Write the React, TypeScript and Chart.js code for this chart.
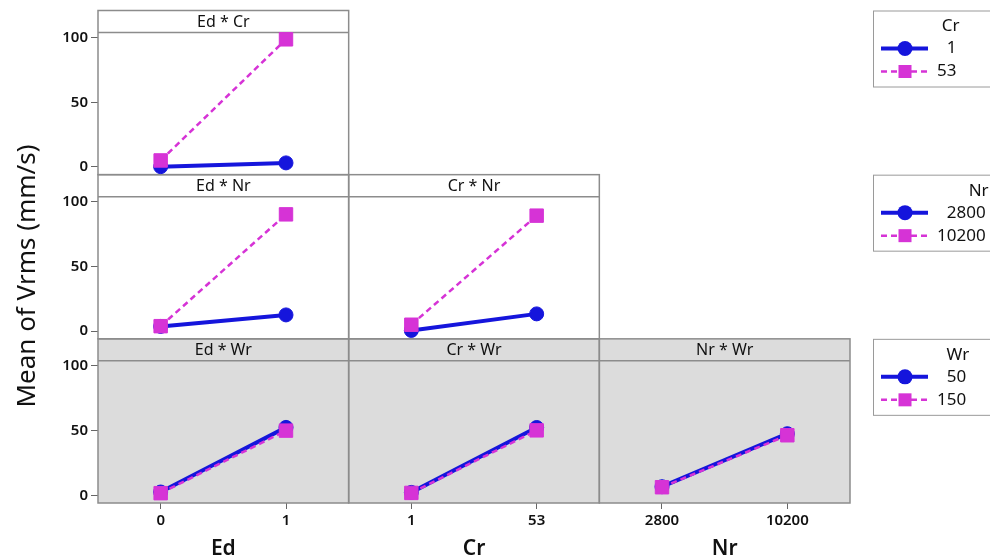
import React, { useEffect, useRef } from 'react';
import { Chart, registerables } from 'chart.js';

Chart.register(...registerables);

// Factor levels (tick labels)
const edLevels = ['0', '1'];
const crLevels = ['1', '53'];
const nrLevels = ['2800', '10200'];
const wrLevels = ['50', '150'];

// Column factors (x axes) and row factors (traces)
const columnFactors = ['Ed', 'Cr', 'Nr'];
const rowFactors = ['Cr', 'Nr', 'Wr'];
const columnLevels = [edLevels, crLevels, nrLevels];
const rowLevels = [crLevels, nrLevels, wrLevels];

// Mean of Vrms (mm/s) per panel, [low x level, high x level]
const edCr_cr1 = [0.2, 3.1];
const edCr_cr53 = [5.0, 98.7];
const edNr_nr2800 = [3.6, 12.5];
const edNr_nr10200 = [3.8, 90.3];
const crNr_nr2800 = [0.5, 13.3];
const crNr_nr10200 = [4.9, 89.3];
const edWr_wr50 = [2.5, 52.5];
const edWr_wr150 = [1.6, 50.0];
const crWr_wr50 = [2.2, 52.4];
const crWr_wr150 = [1.8, 50.2];
const nrWr_wr50 = [6.6, 47.6];
const nrWr_wr150 = [6.2, 46.4];

const yTickValues = [0, 50, 100];
const yTitle = 'Mean of Vrms (mm/s)';

const BLUE = '#1515DC';
const MAGENTA = '#D633D6';
const FONT = "'Noto Sans', 'Open Sans', sans-serif";

const panels = [
  { row: 0, col: 0, first: edCr_cr1, second: edCr_cr53 },
  { row: 1, col: 0, first: edNr_nr2800, second: edNr_nr10200 },
  { row: 1, col: 1, first: crNr_nr2800, second: crNr_nr10200 },
  { row: 2, col: 0, first: edWr_wr50, second: edWr_wr150 },
  { row: 2, col: 1, first: crWr_wr50, second: crWr_wr150 },
  { row: 2, col: 2, first: nrWr_wr50, second: nrWr_wr150 },
];

const HEADER_H = 22;

function drawLegend(ctx: CanvasRenderingContext2D, top: number, title: string, levels: string[]) {
  const left = 873;
  const h = 76;
  ctx.save();
  ctx.fillStyle = '#ffffff';
  ctx.fillRect(left, top, 140, h);
  ctx.strokeStyle = '#9a9a9a';
  ctx.lineWidth = 1;
  ctx.strokeRect(left + 0.5, top + 0.5, 140, h);
  ctx.font = `17px ${FONT}`;
  ctx.fillStyle = '#111';
  ctx.textBaseline = 'middle';
  const maxW = Math.max(...levels.map((l) => ctx.measureText(l).width));
  const right = 937 + maxW;
  ctx.textAlign = 'right';
  ctx.fillText(title, right + 3, top + 16);
  const ys = [top + 38, top + 61];
  // first level: blue solid with circle
  ctx.strokeStyle = BLUE;
  ctx.lineWidth = 4;
  ctx.beginPath();
  ctx.moveTo(881, ys[0]);
  ctx.lineTo(928, ys[0]);
  ctx.stroke();
  ctx.fillStyle = BLUE;
  ctx.beginPath();
  ctx.arc(905, ys[0], 7.5, 0, Math.PI * 2);
  ctx.fill();
  // second level: magenta dashed with square
  ctx.strokeStyle = MAGENTA;
  ctx.lineWidth = 2.5;
  ctx.setLineDash([6, 4]);
  ctx.beginPath();
  ctx.moveTo(881, ys[1]);
  ctx.lineTo(928, ys[1]);
  ctx.stroke();
  ctx.setLineDash([]);
  ctx.fillStyle = MAGENTA;
  ctx.fillRect(905 - 6.5, ys[1] - 6.5, 13, 13);
  ctx.fillStyle = '#111';
  ctx.fillText(levels[0], right, ys[0]);
  ctx.fillText(levels[1], right, ys[1]);
  ctx.restore();
}

const gridPlugin = {
  id: 'gridPanels',
  beforeDatasetsDraw(chart: any) {
    const ctx: CanvasRenderingContext2D = chart.ctx;
    const s = chart.scales;
    ctx.save();
    for (const p of panels) {
      const xs = s[`x${p.col}`];
      const ys = s[`y${p.row}`];
      if (p.row === 2) {
        ctx.fillStyle = '#DCDCDC';
        ctx.fillRect(xs.left, ys.top, xs.right - xs.left, ys.bottom - ys.top);
      }
    }
    ctx.strokeStyle = '#8c8c8c';
    ctx.lineWidth = 1.5;
    for (const p of panels) {
      const xs = s[`x${p.col}`];
      const ys = s[`y${p.row}`];
      ctx.strokeRect(xs.left, ys.top, xs.right - xs.left, ys.bottom - ys.top);
      ctx.beginPath();
      ctx.moveTo(xs.left, ys.top + HEADER_H);
      ctx.lineTo(xs.right, ys.top + HEADER_H);
      ctx.stroke();
    }
    ctx.fillStyle = '#111';
    ctx.font = `16px ${FONT}`;
    ctx.textAlign = 'center';
    ctx.textBaseline = 'middle';
    for (const p of panels) {
      const xs = s[`x${p.col}`];
      const ys = s[`y${p.row}`];
      ctx.fillText(`${columnFactors[p.col]} * ${rowFactors[p.row]}`, (xs.left + xs.right) / 2, ys.top + HEADER_H / 2 + 1);
    }
    ctx.restore();
  },
  afterDraw(chart: any) {
    const ctx: CanvasRenderingContext2D = chart.ctx;
    const s = chart.scales;
    ctx.save();
    ctx.fillStyle = '#111';
    // y title
    ctx.font = `26px ${FONT}`;
    ctx.textAlign = 'center';
    ctx.textBaseline = 'alphabetic';
    ctx.save();
    ctx.translate(35, 276);
    ctx.rotate(-Math.PI / 2);
    ctx.fillText(yTitle, 0, 0);
    ctx.restore();
    // x titles
    ctx.font = `600 21px ${FONT}`;
    for (let c = 0; c < 3; c++) {
      const xs = s[`x${c}`];
      ctx.fillText(columnFactors[c], (xs.left + xs.right) / 2, 555);
    }
    ctx.restore();
    for (let r = 0; r < 3; r++) {
      drawLegend(ctx, s[`y${r}`].top, rowFactors[r], rowLevels[r]);
    }
  },
};

export default function App() {
  const ref = useRef<HTMLCanvasElement | null>(null);
  useEffect(() => {
    document.body.style.margin = '0';
    const canvas = ref.current;
    if (!canvas) return;

    const datasets: any[] = [];
    for (const p of panels) {
      const title = `${columnFactors[p.col]} * ${rowFactors[p.row]}`;
      datasets.push({
        label: `${title}: ${rowFactors[p.row]} = ${rowLevels[p.row][0]}`,
        data: p.first.map((y, i) => ({ x: i, y })),
        xAxisID: `x${p.col}`,
        yAxisID: `y${p.row}`,
        borderColor: BLUE,
        backgroundColor: BLUE,
        borderWidth: 4,
        pointStyle: 'circle',
        pointRadius: 7,
        pointBorderWidth: 1,
        order: 2,
      });
      datasets.push({
        label: `${title}: ${rowFactors[p.row]} = ${rowLevels[p.row][1]}`,
        data: p.second.map((y, i) => ({ x: i, y })),
        xAxisID: `x${p.col}`,
        yAxisID: `y${p.row}`,
        borderColor: MAGENTA,
        backgroundColor: MAGENTA,
        borderWidth: 2.5,
        borderDash: [6, 4],
        pointStyle: 'rect',
        pointRadius: 9.5,
        pointBorderWidth: 1,
        order: 1,
      });
    }

    const scales: any = {};
    for (let r = 0; r < 3; r++) {
      scales[`y${r}`] = {
        type: 'linear',
        position: 'left',
        stack: 'rows',
        stackWeight: 1,
        weight: 3 - r,
        min: -6,
        max: 121,
        afterBuildTicks: (sc: any) => {
          sc.ticks = yTickValues.map((v) => ({ value: v }));
        },
        afterFit: (sc: any) => {
          sc.width = 98;
          sc.paddingTop = 0;
          sc.paddingBottom = 0;
        },
        grid: { drawOnChartArea: false, drawTicks: true, tickLength: 7, color: '#666' },
        border: { display: false },
        ticks: { font: { family: FONT, size: 15, weight: '600' }, color: '#111', padding: 3 },
      };
    }
    for (let c = 0; c < 3; c++) {
      const lv = columnLevels[c];
      scales[`x${c}`] = {
        type: 'linear',
        position: 'bottom',
        stack: 'cols',
        stackWeight: 1,
        weight: c + 1,
        min: -0.5,
        max: 1.5,
        afterBuildTicks: (sc: any) => {
          sc.ticks = [0, 1].map((v) => ({ value: v }));
        },
        afterFit: (sc: any) => {
          sc.height = 55;
          sc.paddingLeft = 0;
          sc.paddingRight = 0;
        },
        grid: { drawOnChartArea: false, drawTicks: true, tickLength: 6, color: '#666' },
        border: { display: false },
        ticks: {
          font: { family: FONT, size: 15, weight: '600' },
          color: '#111',
          padding: 3,
          maxRotation: 0,
          autoSkip: false,
          callback: (v: any) => lv[v] ?? '',
        },
      };
    }

    const chart = new Chart(canvas, {
      type: 'line',
      data: { datasets },
      options: {
        responsive: false,
        animation: false,
        devicePixelRatio: 1,
        layout: { padding: { top: 8, right: 140, bottom: 0, left: 0 } },
        plugins: { legend: { display: false }, tooltip: { enabled: false }, title: { display: false } },
        scales,
      },
      plugins: [gridPlugin],
    });
    return () => chart.destroy();
  }, []);

  return (
    <div style={{ width: 990, height: 558, background: '#fff' }}>
      <canvas ref={ref} width={990} height={558} style={{ display: 'block' }} />
    </div>
  );
}
